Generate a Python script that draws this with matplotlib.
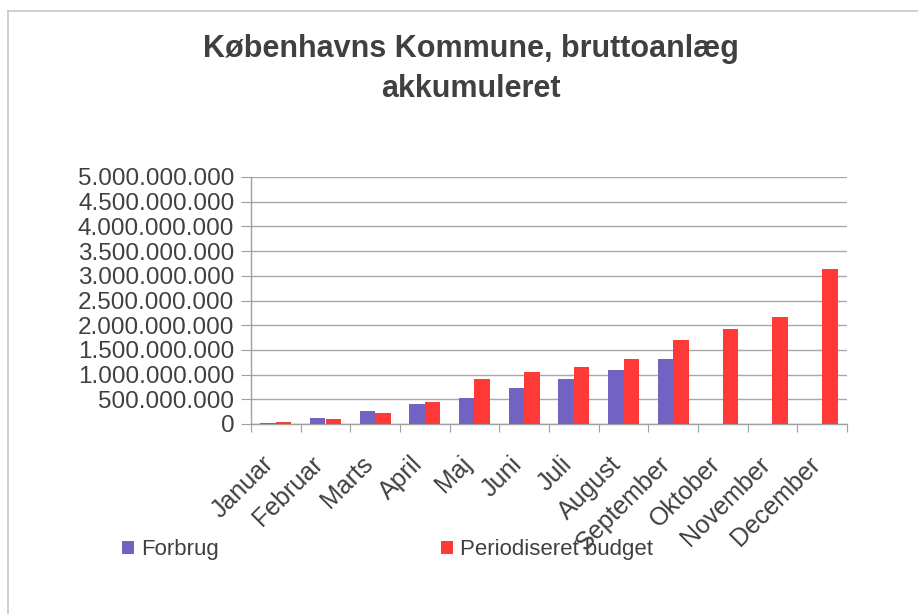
import matplotlib
matplotlib.use("Agg")
import matplotlib.pyplot as plt
from matplotlib.lines import Line2D
from matplotlib.ticker import FuncFormatter, MultipleLocator
import numpy as np

plt.rcParams['font.family'] = ['Liberation Sans', 'DejaVu Sans']

months = ["Januar", "Februar", "Marts", "April", "Maj", "Juni", "Juli",
          "August", "September", "Oktober", "November", "December"]
forbrug = [20e6, 128e6, 263e6, 398e6, 526e6, 734e6, 916e6, 1085e6, 1321e6,
           np.nan, np.nan, np.nan]
budget = [34e6, 94e6, 229e6, 438e6, 916e6, 1058e6, 1159e6, 1321e6, 1705e6,
          1914e6, 2156e6, 3147e6]
series_names = ["Forbrug", "Periodiseret budget"]
title = "Københavns Kommune, bruttoanlæg\nakkumuleret"

W, H = 918, 614
fig = plt.figure(figsize=(W / 100, H / 100), dpi=100)
ax = fig.add_axes([251 / W, 1 - 424 / H, (847 - 251) / W, (424 - 177) / H])

x = np.arange(len(months))
bw = 0.315
c_blue = "#7262c2"
c_red = "#ff3838"
ax.bar(x - bw / 2, forbrug, width=bw, color=c_blue, label=series_names[0], zorder=3)
ax.bar(x + bw / 2, budget, width=bw, color=c_red, label=series_names[1], zorder=3)

ax.set_xlim(-0.5, len(months) - 0.5)
ax.set_ylim(0, 5e9)
ax.yaxis.set_major_locator(MultipleLocator(5e8))
ax.yaxis.set_major_formatter(FuncFormatter(lambda v, p: f"{int(round(v)):,}".replace(",", ".")))
ax.grid(axis='y', color="#a8a8a8", linewidth=1.0, zorder=0)
ax.set_axisbelow(True)

for s in ["top", "right"]:
    ax.spines[s].set_visible(False)
for s in ["left", "bottom"]:
    ax.spines[s].set_color("#a0a0a0")
    ax.spines[s].set_linewidth(1.0)

ax.tick_params(axis='y', length=7, color="#a0a0a0", labelsize=17.5, labelcolor="#404040", pad=5)
ax.set_xticks(np.arange(-0.5, len(months), 1.0))
ax.set_xticklabels([])
ax.tick_params(axis='x', length=6, color="#a0a0a0")
for i, m in enumerate(months):
    ax.annotate(m, xy=(i, 0), xycoords=('data', 'axes fraction'),
                xytext=(-10.5, -20), textcoords='offset points',
                rotation=45, rotation_mode='anchor', ha='right', va='top',
                fontsize=18, color="#404040")

fig.text(471 / W, 1 - 69 / H, title, ha='center', va='center', fontsize=22,
         fontweight='bold', color="#404040", linespacing=1.45)

handles, labels = ax.get_legend_handles_labels()
fig.legend(handles, labels, loc='center left', bbox_to_anchor=(122 / W, 1 - 550 / H),
           frameon=False, ncol=2, fontsize=16, handlelength=0.55, handleheight=0.55,
           handletextpad=0.3, columnspacing=10.0, borderpad=0, borderaxespad=0,
           labelcolor="#404040")

fig.add_artist(Line2D([8 / W, 8 / W], [0, 1 - 11 / H], transform=fig.transFigure,
                      color="#c8c8c8", linewidth=1.2))
fig.add_artist(Line2D([8 / W, 1], [1 - 11 / H, 1 - 11 / H], transform=fig.transFigure,
                      color="#c8c8c8", linewidth=1.2))

fig.savefig("out.png", dpi=100)
